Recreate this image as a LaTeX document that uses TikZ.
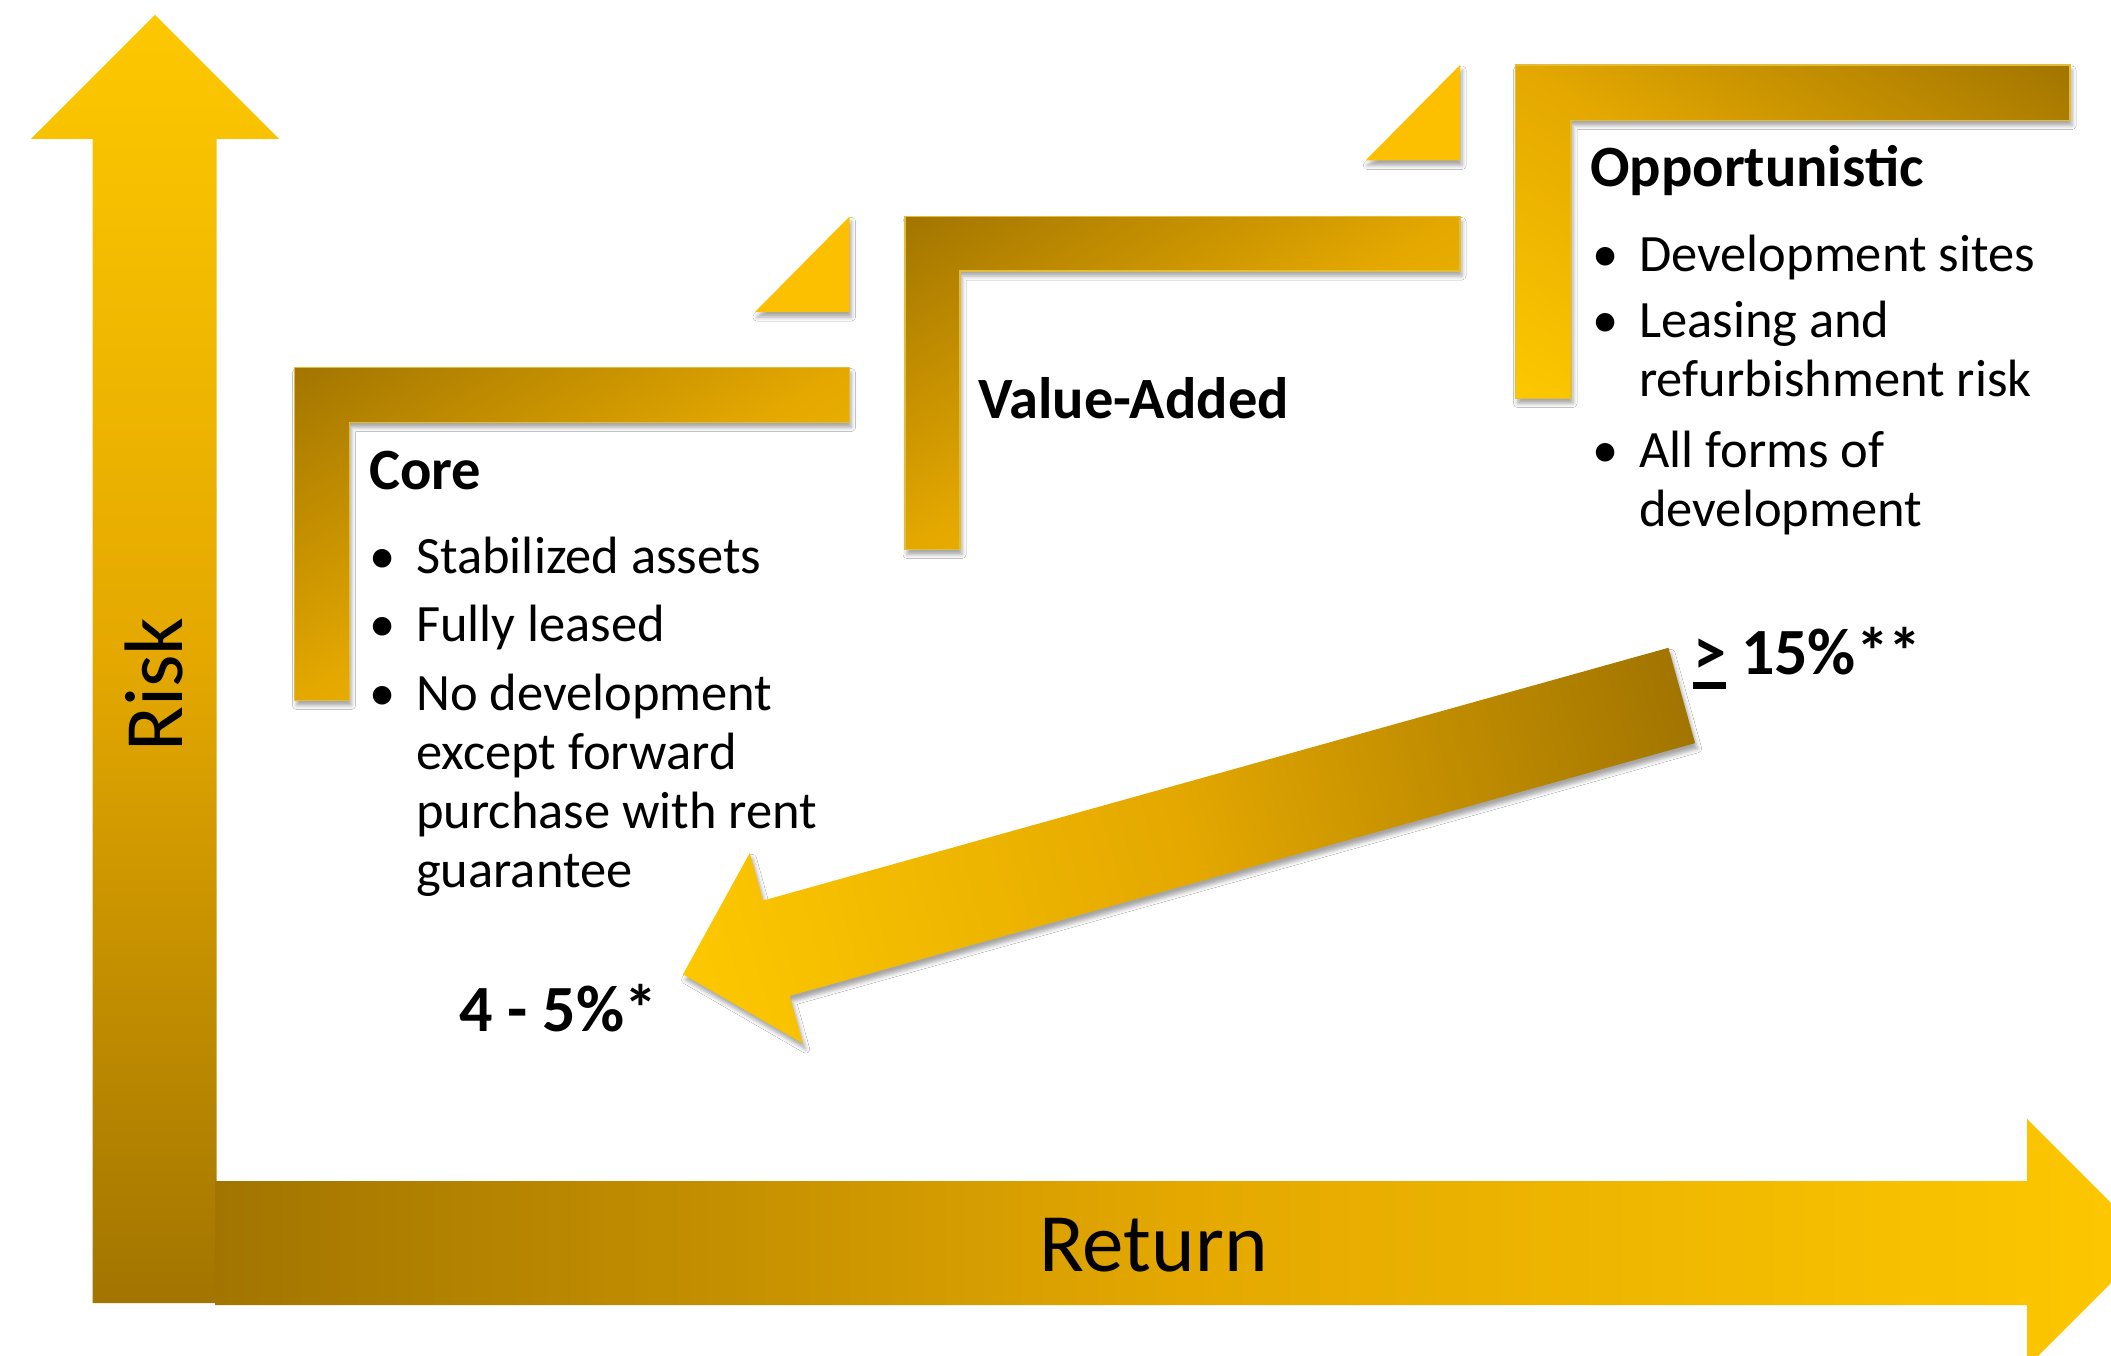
\documentclass[tikz,border=0pt]{standalone}
\usepackage{fontspec}
\setmainfont{Carlito}
\usetikzlibrary{shadows.blur}

\definecolor{gdark}{HTML}{A27500}
\definecolor{gmid}{HTML}{E4A800}
\definecolor{glight}{HTML}{FDC800}
\definecolor{gtri}{HTML}{FCC000}
\definecolor{gborder}{HTML}{E2BE38}

% three-stop gold ramp: dark at the bottom, bright yellow at the top
\pgfdeclareverticalshading{goldramp}{100bp}{color(0bp)=(gdark); color(25bp)=(gdark); color(50bp)=(gmid); color(75bp)=(glight); color(100bp)=(glight)}

% L-shaped stair step with a corner-to-corner gold gradient
% #1 left, #2 top, #3 right end, #4 bar bottom, #5 inner edge, #6 bottom, #7 direction of the dark corner
\newcommand{\goldstep}[7]{%
  \path[softshadow, fill=gmid] (#1,#2) -- (#3,#2) -- (#3,#4) -- (#5,#4) -- (#5,#6) -- (#1,#6) -- cycle;
  \begin{scope}
    \clip (#1,#2) -- (#3,#2) -- (#3,#4) -- (#5,#4) -- (#5,#6) -- (#1,#6) -- cycle;
    \begin{scope}[transform canvas={shift={({(#1+#3)/2},{(#2+#6)/2})}, xscale={(#3-#1)/2}, yscale={(#6-#2)/2}, rotate=#7}]
      \shade[shading=goldramp, shading angle=90] (-1.4142,-1.4142) rectangle (1.4142,1.4142);
    \end{scope}
  \end{scope}
  \draw[gborder, line width=1.2pt] (#1,#2) -- (#3,#2) -- (#3,#4) -- (#5,#4) -- (#5,#6) -- (#1,#6) -- cycle;
}
\newcommand{\itembullet}{\llap{\textbullet\hspace{21pt}}}

\begin{document}
\begin{tikzpicture}[x=1pt, y=-1pt,
  softshadow/.style={blur shadow={shadow xshift=2pt, shadow yshift=-5pt, shadow blur radius=4pt, shadow opacity=35}},
  stepcorner/.style={fill=gtri, softshadow},
  headtext/.style={font=\fontsize{58.5}{66}\selectfont\bfseries, anchor=base west, inner sep=0pt},
  itemtext/.style={font=\fontsize{52.5}{59}\selectfont, anchor=base west, inner sep=0pt},
  pcttext/.style={font=\fontsize{66}{72}\selectfont\bfseries, anchor=base west, inner sep=0pt},
  axistext/.style={font=\fontsize{83}{90}\selectfont, anchor=base west, inner sep=0pt}]

\useasboundingbox (0,0) rectangle (2111,1356);
\fill[white] (0,0) rectangle (2111,1356);
\clip (0,0) rectangle (2111,1356);

% Risk axis (vertical block arrow)
\shade[shading=goldramp] (92.5,1303) -- (92.5,139) -- (31,139) -- (155,15) -- (279,139)
  -- (216.5,139) -- (216.5,1303) -- cycle;
% Return axis (horizontal block arrow)
\shade[shading=goldramp, shading angle=-90] (215,1181) -- (2027,1181) -- (2027,1119)
  -- (2151,1243) -- (2027,1367) -- (2027,1305) -- (215,1305) -- cycle;

% Stair steps
\path[stepcorner] (849.5,216.5) -- (849.5,312) -- (755,312) -- cycle;
\path[stepcorner] (1460,65) -- (1460,160.5) -- (1365.5,160.5) -- cycle;

\goldstep{294.5}{367.5}{849.5}{422.5}{349.5}{700.5}{135}
\goldstep{905}{216.5}{1460}{271}{960}{549.5}{135}
\goldstep{1515.5}{65}{2070}{120.5}{1571}{398.5}{45}

% Diagonal arrow from the high-return end back to the low-return end
\begin{scope}[transform canvas={shift={(683,974.3)}, rotate=15.6}]
  \path[shade, shading=goldramp, shading angle=90,
        blur shadow={shadow xshift=1pt, shadow yshift=-6pt, shadow blur radius=4pt, shadow opacity=35}]
    (0,0) -- (97,-99) -- (97,-49.5) -- (1037,-49.5) -- (1037,49.5) -- (97,49.5) -- (97,99) -- cycle;
\end{scope}

% Axis labels
\node[axistext, rotate=90] (risk) at (182,752) {Risk};
\node[axistext] (return) at (1039,1271) {Return};

% Core
\node[headtext] (core) at (369,489) {Core};
\node[itemtext] (core1) at (416,573) {\itembullet Stabilized assets};
\node[itemtext] (core2) at (416,641.5) {\itembullet Fully leased};
\node[itemtext] (core3) at (416,710) {\vtop{\hbox{\itembullet No development}\hbox{except forward}\hbox{purchase with rent}\hbox{guarantee}}};

% Value-Added
\node[headtext] (valueadded) at (978,418) {Value-Added};

% Opportunistic
\node[headtext] (opp) at (1590,187) {Opportunistic};
\node[itemtext] (opp1) at (1639,272) {\itembullet Development sites};
\node[itemtext] (opp2) at (1639,337) {\vtop{\hbox{\itembullet Leasing and}\hbox{refurbishment risk}}};
\node[itemtext] (opp3) at (1639,467) {\vtop{\hbox{\itembullet All forms of}\hbox{development}}};

% Return ranges
\node[pcttext] (lowret) at (459,1031) {4 - 5\%*};
\node[pcttext] (highret) at (1693,674) {\rlap{\rule[-15pt]{33pt}{7pt}}> 15\%**};
\end{tikzpicture}
\end{document}
